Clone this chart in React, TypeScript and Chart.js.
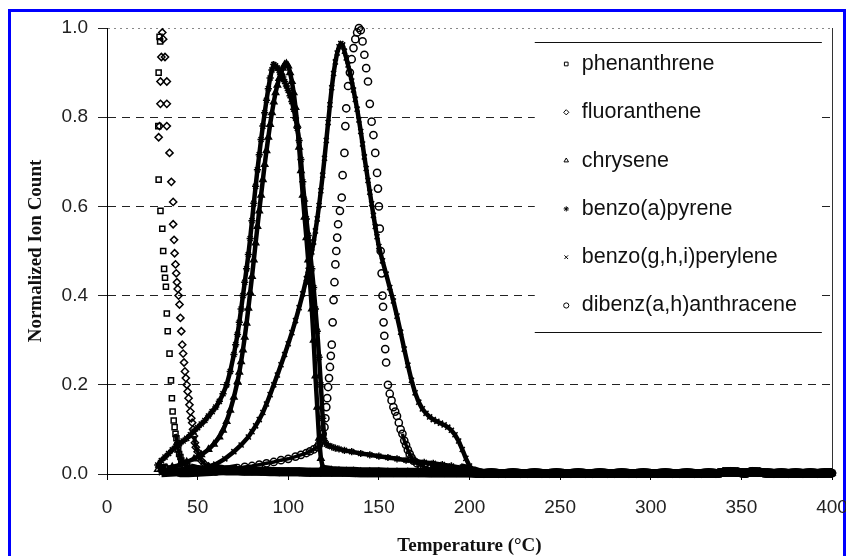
import React, { useEffect, useRef } from 'react';
import { Chart, registerables, PointElement } from 'chart.js';

Chart.register(...registerables);

const FONT = '"Liberation Sans", Arial, sans-serif';
const SERIF = '"Liberation Serif", "Times New Roman", serif';

// [temperature °C, normalized ion count]
const phenanthrene: [number, number][] = [
  [29, 0.98], [29.3, 0.97], [28.5, 0.9], [28.3, 0.78], [28.5, 0.66], [29.5, 0.59], [30.5, 0.55], [31, 0.5], [31.5, 0.46], [32, 0.44],
  [32.5, 0.42], [33, 0.36], [33.5, 0.32], [34.5, 0.27], [35.3, 0.21], [35.8, 0.17], [36.2, 0.14], [36.8, 0.12], [37.3, 0.105], [37.8, 0.09],
  [38.3, 0.08], [38.8, 0.065], [39.3, 0.055], [39.8, 0.045], [40.5, 0.038], [41, 0.03], [42, 0.025], [43, 0.02], [44, 0.017], [46, 0.014],
  [48, 0.012], [50, 0.01], [54, 0.009], [58, 0.008], [62, 0.008], [66, 0.007], [70, 0.007], [75, 0.006], [80, 0.006], [85, 0.006],
  [90, 0.005], [95, 0.005], [100, 0.005], [105, 0.005], [110, 0.004], [115, 0.004], [120, 0.004], [125, 0.004], [130, 0.004], [135, 0.004],
  [140, 0.003], [145, 0.003], [150, 0.003], [155, 0.003], [160, 0.003], [165, 0.003], [170, 0.003], [175, 0.003], [180, 0.003], [185, 0.003],
  [190, 0.003], [195, 0.003], [200, 0.003],
];

const fluoranthene: [number, number][] = [
  [30.5, 0.99], [31, 0.975], [30, 0.935], [32, 0.935], [29.5, 0.88], [33, 0.88], [29.5, 0.83], [33, 0.83], [29, 0.78], [33, 0.78],
  [28.5, 0.755], [34.5, 0.72], [35.5, 0.655], [36.5, 0.61], [36.5, 0.56], [37, 0.525], [37.3, 0.495], [37.8, 0.47], [38.2, 0.45], [38.6, 0.43],
  [39, 0.415], [39.5, 0.4], [40, 0.38], [40.5, 0.35], [41, 0.32], [41.5, 0.29], [42, 0.27], [42.5, 0.25], [43, 0.23], [43.5, 0.215],
  [44, 0.2], [44.5, 0.185], [45, 0.17], [45.5, 0.155], [46, 0.14], [46.5, 0.125], [47, 0.115], [47.5, 0.1], [48, 0.085], [48.5, 0.07],
  [49, 0.06], [50, 0.05], [51, 0.04], [52, 0.03], [54, 0.022], [56, 0.017], [58, 0.014], [61, 0.012], [64, 0.01], [68, 0.009],
  [72, 0.008], [76, 0.007], [80, 0.007], [85, 0.006], [90, 0.006], [95, 0.005], [100, 0.005], [106, 0.005], [112, 0.004], [118, 0.004],
  [124, 0.004], [130, 0.004], [137, 0.003], [144, 0.003], [151, 0.003], [158, 0.003], [165, 0.003], [172, 0.003], [179, 0.003], [186, 0.003],
  [193, 0.003], [200, 0.003],
];

const chrysene: [number, number][] = [
  [28, 0.01], [30, 0.012], [33, 0.014], [36, 0.016], [40, 0.02], [44, 0.027], [48, 0.034], [52, 0.043], [56, 0.055], [59, 0.067],
  [62, 0.083], [64, 0.098], [66, 0.118], [68, 0.143], [70, 0.172], [72, 0.207], [73, 0.228], [74, 0.252], [75, 0.278], [76, 0.307],
  [77, 0.338], [78, 0.372], [79, 0.407], [80, 0.443], [81, 0.48], [82, 0.518], [83, 0.555], [84, 0.59], [85, 0.625], [86, 0.66],
  [87, 0.694], [88, 0.725], [89, 0.755], [90, 0.784], [91, 0.81], [92, 0.834], [93, 0.855], [94, 0.872], [95, 0.887], [96, 0.9],
  [97, 0.91], [98, 0.918], [99, 0.92], [100, 0.915], [101, 0.9], [102, 0.88], [103, 0.855], [104, 0.822], [105, 0.782], [106, 0.733],
  [107, 0.68], [108, 0.625], [109, 0.576], [110, 0.53], [111, 0.48], [112, 0.43], [113, 0.37], [114, 0.3], [115, 0.22], [116, 0.15],
  [117, 0.08], [118, 0.035], [119, 0.016], [120, 0.01], [124, 0.008], [128, 0.007], [132, 0.006], [136, 0.006], [140, 0.005], [145, 0.005],
  [150, 0.005], [155, 0.004], [160, 0.004], [166, 0.004], [172, 0.004], [178, 0.003], [184, 0.003], [190, 0.003], [196, 0.003], [202, 0.003],
];

const benzoAPyrene: [number, number][] = [
  [28, 0.02], [30, 0.03], [32, 0.038], [34, 0.046], [36, 0.054], [38, 0.062], [40, 0.068], [42, 0.074], [44, 0.08], [46, 0.088],
  [48, 0.096], [50, 0.104], [52, 0.112], [54, 0.12], [56, 0.13], [58, 0.14], [60, 0.15], [62, 0.163], [64, 0.18], [66, 0.2],
  [68, 0.23], [70, 0.268], [71, 0.29], [72, 0.313], [73, 0.34], [74, 0.37], [75, 0.4], [76, 0.43], [77, 0.46], [78, 0.492],
  [79, 0.528], [80, 0.568], [81, 0.607], [82, 0.645], [83, 0.682], [84, 0.716], [85, 0.75], [86, 0.78], [87, 0.81], [88, 0.838],
  [89, 0.864], [90, 0.888], [91, 0.906], [92, 0.918], [93, 0.915], [94, 0.91], [95, 0.905], [96, 0.898], [97, 0.89], [98, 0.88],
  [99, 0.87], [100, 0.86], [101, 0.848], [102, 0.835], [103, 0.818], [104, 0.798], [105, 0.775], [106, 0.748], [107, 0.705], [108, 0.655],
  [109, 0.612], [110, 0.572], [111, 0.535], [112, 0.5], [113, 0.46], [114, 0.418], [115, 0.37], [116, 0.32], [117, 0.262], [118, 0.2],
  [119, 0.125], [120, 0.075], [121, 0.067], [122, 0.064], [124, 0.061], [126, 0.058], [128, 0.056], [131, 0.053], [135, 0.05], [140, 0.046],
  [145, 0.043], [150, 0.04], [155, 0.037], [160, 0.034], [165, 0.031], [170, 0.029], [175, 0.026], [180, 0.024], [185, 0.021], [190, 0.018],
  [195, 0.014], [200, 0.01], [203, 0.005],
];

const benzoGhiPerylene: [number, number][] = [
  [30, 0.003], [35, 0.004], [40, 0.005], [45, 0.007], [50, 0.01], [55, 0.015], [60, 0.022], [65, 0.034], [70, 0.05], [74, 0.065],
  [78, 0.083], [80, 0.095], [82, 0.108], [84, 0.122], [86, 0.138], [88, 0.157], [90, 0.178], [92, 0.2], [94, 0.222], [96, 0.245],
  [98, 0.268], [100, 0.292], [102, 0.317], [104, 0.344], [106, 0.373], [108, 0.404], [110, 0.438], [111, 0.457], [112, 0.477], [113, 0.498],
  [114, 0.52], [115, 0.545], [116, 0.572], [117, 0.602], [118, 0.635], [119, 0.67], [120, 0.708], [121, 0.748], [122, 0.788], [123, 0.828],
  [124, 0.866], [125, 0.898], [126, 0.924], [127, 0.944], [128, 0.958], [129, 0.965], [130, 0.962], [131, 0.948], [132, 0.933], [133, 0.917],
  [134, 0.9], [135, 0.881], [136, 0.861], [137, 0.84], [138, 0.818], [139, 0.794], [140, 0.768], [141, 0.74], [142, 0.711], [143, 0.685],
  [144, 0.658], [145, 0.632], [146, 0.606], [147, 0.58], [148, 0.555], [149, 0.532], [150, 0.51], [152, 0.478], [154, 0.448], [156, 0.418],
  [158, 0.388], [160, 0.354], [162, 0.318], [164, 0.28], [166, 0.244], [168, 0.21], [170, 0.182], [172, 0.161], [174, 0.146], [176, 0.136],
  [178, 0.128], [180, 0.122], [182, 0.118], [184, 0.114], [186, 0.11], [188, 0.105], [190, 0.098], [192, 0.088], [194, 0.074], [196, 0.055],
  [198, 0.035], [200, 0.018], [202, 0.008], [205, 0.004],
];

const dibenzAnthracene: [number, number][] = [
  [40, 0.003], [45, 0.003], [50, 0.004], [55, 0.005], [60, 0.006], [64, 0.008], [68, 0.01], [72, 0.013], [76, 0.016], [80, 0.018],
  [84, 0.021], [88, 0.024], [92, 0.027], [96, 0.031], [100, 0.034], [104, 0.039], [107, 0.043], [110, 0.047], [112, 0.051], [114, 0.055],
  [116, 0.06], [117, 0.066], [118, 0.075], [119, 0.09], [120, 0.105], [120.5, 0.125], [121, 0.15], [121.5, 0.17], [122, 0.195], [122.5, 0.215],
  [123, 0.24], [123.5, 0.265], [124, 0.29], [124.5, 0.34], [125, 0.39], [125.5, 0.43], [126, 0.47], [126.5, 0.5], [127, 0.53], [127.5, 0.56],
  [128.5, 0.59], [129.5, 0.62], [130, 0.67], [131, 0.72], [131.5, 0.78], [132, 0.82], [133, 0.87], [134, 0.9], [135, 0.93], [136, 0.955],
  [137, 0.975], [138, 0.99], [139, 1.0], [140, 0.995], [141, 0.97], [142, 0.94], [143, 0.91], [144, 0.88], [145, 0.83], [146, 0.79],
  [147, 0.76], [148, 0.72], [149, 0.675], [149.5, 0.64], [150, 0.6], [150.5, 0.55], [151, 0.5], [151.5, 0.45], [152, 0.4], [152.3, 0.375],
  [152.6, 0.34], [153, 0.31], [153.5, 0.28], [154, 0.25], [155, 0.2], [156, 0.18], [157, 0.165], [158, 0.15], [159, 0.14], [160, 0.13],
  [161, 0.115], [162, 0.1], [163, 0.09], [164, 0.075], [165, 0.065], [166, 0.054], [167, 0.045], [168, 0.037], [169, 0.03], [171, 0.024],
  [173, 0.02], [175, 0.016], [178, 0.012], [182, 0.009], [186, 0.007], [190, 0.006], [195, 0.005], [200, 0.004],
];

// common near-zero baseline shared by all compounds above ~200 °C
const tailTemps = [
  204, 208, 212, 216, 220, 224, 228, 232, 236, 240, 244, 248, 252, 256, 260, 264, 268, 272, 276, 280,
  284, 288, 292, 296, 300, 304, 308, 312, 316, 320, 324, 328, 332, 336, 340, 344, 348, 352, 356, 360,
  364, 368, 372, 376, 380, 384, 388, 392, 396, 400,
];
const tailValues = [
  0.002, 0.001, 0.002, 0.001, 0.001, 0.002, 0.001, 0.001, 0.002, 0.001, 0.001, 0.002, 0.001, 0.001, 0.002, 0.001, 0.001, 0.002, 0.001, 0.001,
  0.002, 0.001, 0.001, 0.002, 0.001, 0.001, 0.002, 0.001, 0.001, 0.002, 0.001, 0.001, 0.002, 0.001, 0.004, 0.005, 0.004, 0.002, 0.005, 0.004,
  0.002, 0.001, 0.002, 0.001, 0.002, 0.001, 0.002, 0.001, 0.002, 0.002,
];

const xTicks = { min: 0, max: 400, step: 50 };
const yTicks = { min: 0, max: 1, step: 0.2 };

const seriesDefs = [
  { label: 'phenanthrene', pts: phenanthrene, style: 'rect', line: false },
  { label: 'fluoranthene', pts: fluoranthene, style: 'rectRot', line: false },
  { label: 'chrysene', pts: chrysene, style: 'triangle', line: true },
  { label: 'benzo(a)pyrene', pts: benzoAPyrene, style: 'star', line: true },
  { label: 'benzo(g,h,i)perylene', pts: benzoGhiPerylene, style: 'crossRot', line: true },
  { label: 'dibenz(a,h)anthracene', pts: dibenzAnthracene, style: 'circle', line: false },
];

const boxLegend = {
  id: 'boxLegend',
  afterDatasetsDraw(chart: any) {
    const { ctx, chartArea: a } = chart;
    const w = a.right - a.left;
    const h = a.bottom - a.top;
    const L = a.left + w * 0.59;
    const R = a.left + w * 0.986;
    const T = Math.round(a.top + h * 0.031) + 0.5;
    const B = Math.round(a.top + h * 0.682) + 0.5;
    ctx.save();
    ctx.fillStyle = '#fff';
    ctx.fillRect(L, T, R - L, B - T);
    ctx.strokeStyle = '#111';
    ctx.lineWidth = 1;
    ctx.setLineDash([]);
    ctx.beginPath();
    ctx.moveTo(L, T);
    ctx.lineTo(R, T);
    ctx.moveTo(L, B);
    ctx.lineTo(R, B);
    ctx.stroke();
    const area = { left: 0, top: 0, right: chart.width, bottom: chart.height };
    chart.data.datasets.forEach((ds: any, i: number) => {
      const y = a.top + h * (0.0807 + i * 0.1083);
      const pt: any = new PointElement({
        x: L + 31.5,
        y,
        options: {
          pointStyle: ds.pointStyle,
          radius: 2.6,
          borderWidth: 1,
          borderColor: '#000',
          backgroundColor: 'rgba(0,0,0,0)',
          rotation: 0,
        },
      } as any);
      pt.draw(ctx, area);
      ctx.font = `21.5px ${FONT}`;
      ctx.textBaseline = 'middle';
      ctx.textAlign = 'left';
      ctx.fillStyle = '#111';
      ctx.fillText(ds.label, L + 47, y);
    });
    ctx.restore();
  },
};

const frame = {
  id: 'frame',
  beforeDatasetsDraw(chart: any) {
    const { ctx, chartArea: a } = chart;
    ctx.save();
    ctx.strokeStyle = '#333';
    ctx.lineWidth = 1;
    ctx.beginPath();
    const x = Math.round(a.right) + 0.5;
    ctx.moveTo(x, a.top);
    ctx.lineTo(x, a.bottom);
    ctx.stroke();
    ctx.restore();
  },
};

export default function App() {
  const ref = useRef<HTMLCanvasElement>(null);

  useEffect(() => {
    document.documentElement.style.overflow = 'hidden';
    document.body.style.overflow = 'hidden';
    const tail = tailTemps.map((t, i) => ({ x: t, y: tailValues[i] }));
    const datasets = seriesDefs.map((s) => {
      const hi = (c: any) => Math.max(c.p0.parsed.y, c.p1.parsed.y);
      return {
        label: s.label,
        data: s.pts.map(([x, y]) => ({ x, y })).concat(tail),
        pointStyle: s.style,
        showLine: true,
        borderColor: '#000',
        borderWidth: 4,
        backgroundColor: 'rgba(0,0,0,0)',
        pointBorderColor: '#000',
        pointBackgroundColor: 'rgba(0,0,0,0)',
        pointBorderWidth: 1.5,
        pointRadius: 3.6,
        tension: 0,
        clip: false as any,
        segment: {
          borderWidth: (c: any) => (hi(c) < 0.015 ? 9 : s.line ? 4.5 : 3.5),
          borderColor: (c: any) => (s.line || hi(c) < 0.1 ? '#000' : 'rgba(0,0,0,0)'),
        },
      };
    });

    const chart = new Chart(ref.current as HTMLCanvasElement, {
      type: 'scatter',
      data: { datasets } as any,
      options: {
        animation: false,
        responsive: false,
        events: [],
        layout: { padding: { left: 0, right: 14, top: 28, bottom: 0 } },
        plugins: { legend: { display: false }, tooltip: { enabled: false } },
        scales: {
          x: {
            type: 'linear',
            min: xTicks.min,
            max: xTicks.max,
            ticks: {
              stepSize: xTicks.step,
              color: '#222',
              font: { family: FONT, size: 19 },
              padding: 16,
              maxRotation: 0,
              autoSkip: false,
            },
            grid: { drawOnChartArea: false, drawTicks: true, tickLength: 6, color: '#000' },
            border: { color: '#000', width: 1 },
            title: {
              display: true,
              text: 'Temperature (°C)',
              color: '#111',
              font: { family: SERIF, size: 19, weight: 'bold', lineHeight: 1 },
              padding: { top: 0, bottom: 0 },
            },
            afterFit: (s: any) => {
              s.height = 82;
              s.paddingLeft = 0;
              s.paddingRight = 0;
            },
          },
          y: {
            type: 'linear',
            min: yTicks.min,
            max: yTicks.max,
            ticks: {
              stepSize: yTicks.step,
              color: '#222',
              font: { family: FONT, size: 19 },
              padding: 10,
              callback: (v: any) => Number(v).toFixed(1),
            },
            grid: {
              color: (c: any) => (c.tick && c.tick.value >= 0.999 ? '#888' : '#222'),
              tickColor: '#222',
              tickLength: 9,
              lineWidth: 1,
            },
            border: {
              color: '#000',
              width: 1,
              dash: (c: any) => (c.tick && c.tick.value >= 0.999 ? [2, 4] : [8, 6]),
            } as any,
            title: {
              display: true,
              text: 'Normalized Ion Count',
              color: '#111',
              font: { family: SERIF, size: 19, weight: 'bold', lineHeight: 1.2 },
              padding: { top: 24.6, bottom: 0 },
            },
            afterFit: (s: any) => {
              s.width = 107;
              s.paddingTop = 0;
              s.paddingBottom = 0;
            },
          },
        },
      } as any,
      plugins: [frame, boxLegend],
    });
    return () => chart.destroy();
  }, []);

  return (
    <div
      style={{
        position: 'fixed',
        left: 0,
        top: 0,
        width: 846,
        height: 556,
        overflow: 'hidden',
        background: '#fff',
      }}
    >
      <div
        style={{
          position: 'absolute',
          left: 8,
          top: 9,
          width: 838,
          height: 700,
          boxSizing: 'border-box',
          border: '3px solid #0000ff',
        }}
      />
      <canvas
        ref={ref}
        width={846}
        height={556}
        style={{ position: 'absolute', left: 0, top: 0, width: 846, height: 556 }}
      />
    </div>
  );
}
